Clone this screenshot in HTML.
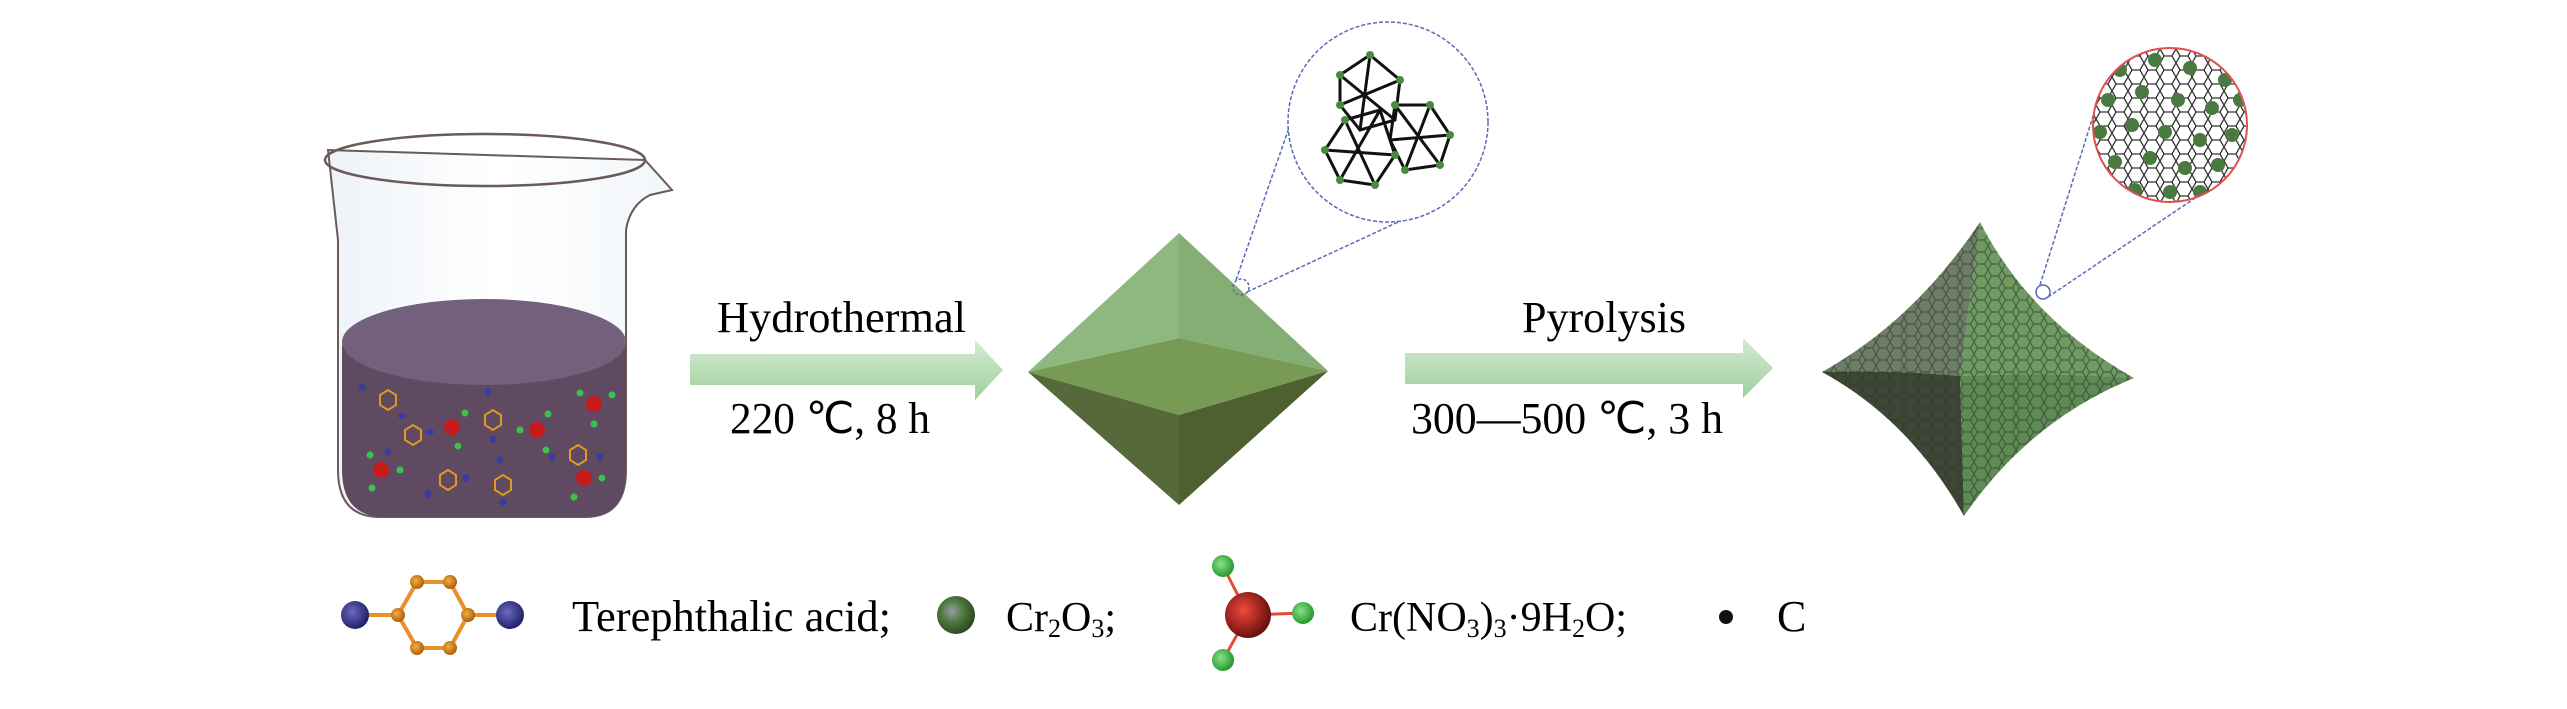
<!DOCTYPE html>
<html><head><meta charset="utf-8"><style>html,body{margin:0;padding:0;background:#fff}svg{display:block}</style></head>
<body>
<svg width="2567" height="709" viewBox="0 0 2567 709" xmlns="http://www.w3.org/2000/svg" font-family="'Liberation Serif',serif">
<defs>
<linearGradient id="arr" x1="0" y1="0" x2="0" y2="1"><stop offset="0" stop-color="#d4ebd2"/><stop offset="1" stop-color="#9fcf9c"/></linearGradient>
<linearGradient id="glass" x1="0" y1="0" x2="1" y2="0"><stop offset="0" stop-color="#eef3f8"/><stop offset="0.5" stop-color="#fff"/><stop offset="1" stop-color="#f2f6fa"/></linearGradient>
<radialGradient id="gball" cx="0.4" cy="0.4" r="0.6"><stop offset="0" stop-color="#9a9aa8"/><stop offset="0.5" stop-color="#4c7a3e"/><stop offset="1" stop-color="#2e4a22"/></radialGradient>
<radialGradient id="green" cx="0.4" cy="0.4" r="0.6"><stop offset="0" stop-color="#8ee08a"/><stop offset="1" stop-color="#259a2c"/></radialGradient>
<radialGradient id="red" cx="0.4" cy="0.4" r="0.6"><stop offset="0" stop-color="#f04a3a"/><stop offset="1" stop-color="#6a1010"/></radialGradient>
<radialGradient id="blue" cx="0.4" cy="0.4" r="0.6"><stop offset="0" stop-color="#6a6ac0"/><stop offset="1" stop-color="#22226a"/></radialGradient>
<radialGradient id="orange" cx="0.4" cy="0.4" r="0.6"><stop offset="0" stop-color="#f0b040"/><stop offset="1" stop-color="#b06010"/></radialGradient>
<pattern id="hex" width="14" height="12" patternUnits="userSpaceOnUse">
<path d="M3.5 0 L10.5 0 L14 6 L10.5 12 L3.5 12 L0 6 Z" fill="none" stroke="#2e3a26" stroke-width="1.2" opacity="0.6"/>
</pattern>
<pattern id="hex2" width="16" height="14" patternUnits="userSpaceOnUse">
<path d="M4 0 L12 0 L16 7 L12 14 L4 14 L0 7 Z" fill="none" stroke="#333" stroke-width="1.3"/>
</pattern>
<clipPath id="cc"><circle cx="2170" cy="125" r="77"/></clipPath>
</defs>

<!-- Beaker -->
<path d="M328 150 L338 240 L338 470 Q338 517 380 517 L585 517 Q626 517 626 470 L626 230 Q630 205 650 195 L672 190 L645 160 Z" fill="url(#glass)" stroke="#6a5a58" stroke-width="2"/>
<path d="M342 345 L342 470 Q342 517 385 517 L585 517 Q626 517 626 470 L626 345 Z" fill="#5f4a62"/>
<ellipse cx="484" cy="342" rx="142" ry="43" fill="#72607c"/>
<ellipse cx="485" cy="160" rx="160" ry="26" fill="none" stroke="#6a5a58" stroke-width="2.5"/>
<g>
<g fill="none" stroke="#e09a20" stroke-width="2">
<polygon points="380,395 388,390 396,395 396,405 388,410 380,405"/>
<polygon points="405,430 413,425 421,430 421,440 413,445 405,440"/>
<polygon points="485,415 493,410 501,415 501,425 493,430 485,425"/>
<polygon points="440,475 448,470 456,475 456,485 448,490 440,485"/>
<polygon points="495,480 503,475 511,480 511,490 503,495 495,490"/>
<polygon points="570,450 578,445 586,450 586,460 578,465 570,460"/>
</g>
<g fill="#3a3aa0"><circle cx="362" cy="387" r="3.5"/><circle cx="402" cy="416" r="3.5"/><circle cx="488" cy="392" r="3.5"/><circle cx="493" cy="439" r="3.5"/><circle cx="430" cy="432" r="3.5"/><circle cx="388" cy="452" r="3.5"/><circle cx="466" cy="478" r="3.5"/><circle cx="428" cy="494" r="3.5"/><circle cx="500" cy="460" r="3.5"/><circle cx="503" cy="502" r="3.5"/><circle cx="552" cy="457" r="3.5"/><circle cx="600" cy="457" r="3.5"/></g>
<g fill="#c81a1a"><circle cx="452" cy="427" r="8"/><circle cx="537" cy="430" r="8"/><circle cx="594" cy="404" r="8"/><circle cx="381" cy="470" r="8"/><circle cx="584" cy="478" r="8"/></g>
<g fill="#3ac24a"><circle cx="465" cy="413" r="3.5"/><circle cx="458" cy="446" r="3.5"/><circle cx="548" cy="414" r="3.5"/><circle cx="520" cy="430" r="3.5"/><circle cx="546" cy="450" r="3.5"/><circle cx="580" cy="393" r="3.5"/><circle cx="612" cy="395" r="3.5"/><circle cx="594" cy="424" r="3.5"/><circle cx="370" cy="455" r="3.5"/><circle cx="400" cy="470" r="3.5"/><circle cx="372" cy="488" r="3.5"/><circle cx="602" cy="478" r="3.5"/><circle cx="574" cy="497" r="3.5"/></g>
</g>

<!-- Arrow 1 -->
<path d="M690 354 L975 354 L975 340 L1003 370 L975 400 L975 385 L690 385 Z" fill="url(#arr)"/>
<text x="717" y="332" font-size="44" textLength="249" lengthAdjust="spacingAndGlyphs">Hydrothermal</text>
<text x="730" y="433" font-size="44" textLength="200" lengthAdjust="spacingAndGlyphs">220 ℃, 8 h</text>

<!-- Octahedron 1 -->
<polygon points="1179,233 1028,372 1179,338" fill="#8fb880"/>
<polygon points="1179,233 1179,338 1328,371" fill="#85ae74"/>
<polygon points="1028,372 1179,338 1328,371 1179,415" fill="#779a55"/>
<polygon points="1028,372 1179,415 1179,505" fill="#56693a"/>
<polygon points="1179,415 1328,371 1179,505" fill="#4e6030"/>
<circle cx="1241" cy="287" r="8" fill="none" stroke="#5a6ab8" stroke-width="1.5" stroke-dasharray="3,2"/>
<line x1="1236" y1="280" x2="1290" y2="125" stroke="#5a6ab8" stroke-width="1.5" stroke-dasharray="4,2"/>
<line x1="1247" y1="292" x2="1435" y2="205" stroke="#5a6ab8" stroke-width="1.5" stroke-dasharray="4,2"/>
<circle cx="1388" cy="122" r="100" fill="#fff" stroke="#5a6ab8" stroke-width="1.5" stroke-dasharray="4,2"/>
<g stroke="#111" stroke-width="3" fill="none">
<polygon points="1340,75 1370,55 1400,80 1395,120 1360,130 1340,105"/>
<polygon points="1345,120 1380,110 1395,155 1375,185 1340,180 1325,150"/>
<polygon points="1395,105 1430,105 1450,135 1440,165 1405,170 1390,140"/>
<path d="M1340,75 L1395,120 M1370,55 L1360,130 M1400,80 L1340,105 M1345,120 L1375,185 M1380,110 L1340,180 M1325,150 L1395,155 M1395,105 L1440,165 M1430,105 L1405,170 M1390,140 L1450,135"/>
</g>
<g fill="#4a8a40"><circle cx="1340" cy="75" r="4"/><circle cx="1370" cy="55" r="4"/><circle cx="1400" cy="80" r="4"/><circle cx="1340" cy="105" r="4"/><circle cx="1345" cy="120" r="4"/><circle cx="1325" cy="150" r="4"/><circle cx="1340" cy="180" r="4"/><circle cx="1375" cy="185" r="4"/><circle cx="1395" cy="155" r="4"/><circle cx="1430" cy="105" r="4"/><circle cx="1450" cy="135" r="4"/><circle cx="1440" cy="165" r="4"/><circle cx="1405" cy="170" r="4"/><circle cx="1395" cy="105" r="4"/></g>

<!-- Arrow 2 -->
<path d="M1405 353 L1743 353 L1743 338 L1773 368 L1743 398 L1743 384 L1405 384 Z" fill="url(#arr)"/>
<text x="1522" y="332" font-size="44" textLength="164" lengthAdjust="spacingAndGlyphs">Pyrolysis</text>
<text x="1411" y="433" font-size="44" textLength="312" lengthAdjust="spacingAndGlyphs">300—500 ℃, 3 h</text>

<!-- Octahedron 2 (concave) -->
<path d="M1980 222 Q1915 320 1822 372 Q1900 370 1960 376 Z" fill="#6d7e68"/>
<path d="M1980 222 L1960 376 Q2050 372 2134 378 Q2030 320 1980 222 Z" fill="#6f9a64"/>
<path d="M1822 372 Q1900 370 1960 376 L1964 516 Q1910 420 1822 372 Z" fill="#3e4638"/>
<path d="M1960 376 Q2050 372 2134 378 Q2030 420 1964 516 Z" fill="#5e8a56"/>
<path d="M1980 222 Q1915 320 1822 372 Q1910 420 1964 516 Q2030 420 2134 378 Q2030 320 1980 222 Z" fill="url(#hex)"/>
<circle cx="2043" cy="292" r="7" fill="none" stroke="#5a6ab8" stroke-width="1.5"/>
<line x1="2040" y1="285" x2="2095" y2="110" stroke="#5a6ab8" stroke-width="1.5" stroke-dasharray="4,2"/>
<line x1="2048" y1="297" x2="2210" y2="188" stroke="#5a6ab8" stroke-width="1.5" stroke-dasharray="4,2"/>
<circle cx="2170" cy="125" r="77" fill="#fff"/>
<g clip-path="url(#cc)">
<rect x="2090" y="45" width="160" height="160" fill="url(#hex2)"/>
<g fill="#4a7a42">
<circle cx="2120" cy="70" r="7"/><circle cx="2155" cy="60" r="7"/><circle cx="2190" cy="68" r="7"/><circle cx="2225" cy="80" r="7"/>
<circle cx="2108" cy="100" r="7"/><circle cx="2142" cy="92" r="7"/><circle cx="2178" cy="100" r="7"/><circle cx="2212" cy="108" r="7"/><circle cx="2240" cy="100" r="7"/>
<circle cx="2100" cy="132" r="7"/><circle cx="2132" cy="125" r="7"/><circle cx="2165" cy="132" r="7"/><circle cx="2200" cy="140" r="7"/><circle cx="2232" cy="135" r="7"/>
<circle cx="2115" cy="162" r="7"/><circle cx="2150" cy="158" r="7"/><circle cx="2185" cy="168" r="7"/><circle cx="2218" cy="165" r="7"/>
<circle cx="2135" cy="190" r="7"/><circle cx="2170" cy="192" r="7"/><circle cx="2200" cy="192" r="7"/>
</g></g>
<circle cx="2170" cy="125" r="77" fill="none" stroke="#e05050" stroke-width="2"/>

<!-- Legend -->
<g stroke="#e8902a" stroke-width="4"><line x1="355" y1="615" x2="398" y2="615"/><line x1="468" y1="615" x2="510" y2="615"/>
<polygon points="398,615 417,582 450,582 468,615 450,648 417,648" fill="none"/></g>
<circle cx="355" cy="615" r="14" fill="url(#blue)"/><circle cx="510" cy="615" r="14" fill="url(#blue)"/>
<g fill="url(#orange)"><circle cx="398" cy="615" r="7"/><circle cx="417" cy="582" r="7"/><circle cx="450" cy="582" r="7"/><circle cx="468" cy="615" r="7"/><circle cx="450" cy="648" r="7"/><circle cx="417" cy="648" r="7"/></g>
<text x="572" y="631" font-size="44" textLength="319" lengthAdjust="spacingAndGlyphs">Terephthalic acid;</text>
<circle cx="956" cy="615" r="19" fill="url(#gball)"/>
<text x="1006" y="631" font-size="42">Cr<tspan font-size="26" dy="6">2</tspan><tspan dy="-6">O</tspan><tspan font-size="26" dy="6">3</tspan><tspan dy="-6">;</tspan></text>
<g stroke="#e05030" stroke-width="3"><line x1="1248" y1="615" x2="1223" y2="566"/><line x1="1248" y1="615" x2="1223" y2="660"/><line x1="1248" y1="615" x2="1303" y2="613"/></g>
<circle cx="1223" cy="566" r="11" fill="url(#green)"/><circle cx="1223" cy="660" r="11" fill="url(#green)"/><circle cx="1303" cy="613" r="11" fill="url(#green)"/>
<circle cx="1248" cy="615" r="23" fill="url(#red)"/>
<text x="1350" y="631" font-size="42">Cr(NO<tspan font-size="26" dy="6">3</tspan><tspan dy="-6">)</tspan><tspan font-size="26" dy="6">3</tspan><tspan dy="-6">·9H</tspan><tspan font-size="26" dy="6">2</tspan><tspan dy="-6">O;</tspan></text>
<circle cx="1726" cy="617" r="7" fill="#111"/>
<text x="1777" y="631" font-size="44">C</text>
</svg>
</body></html>
